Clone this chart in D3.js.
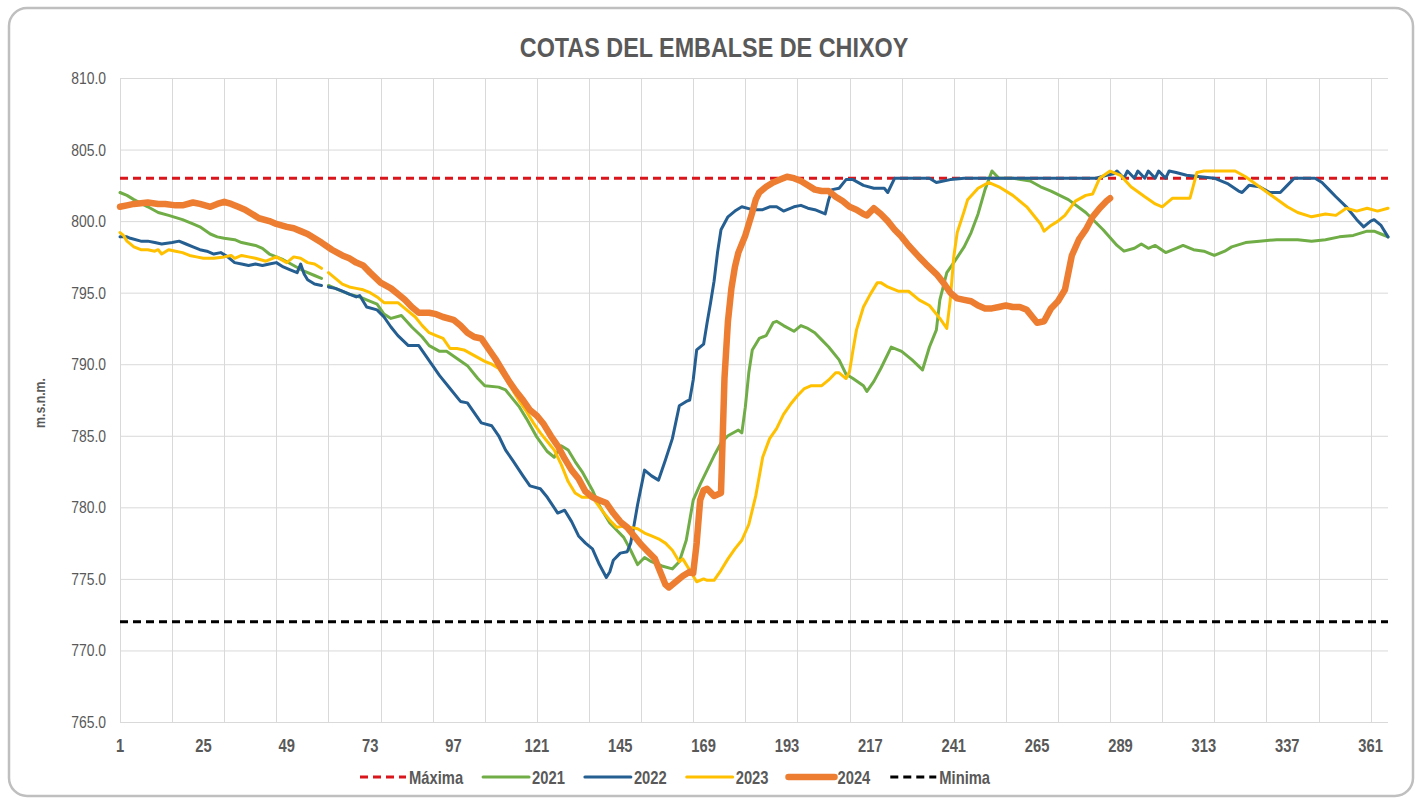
<!DOCTYPE html>
<html lang="es">
<head>
<meta charset="UTF-8">
<title>Cotas del embalse de Chixoy</title>
<script src="https://d3js.org/d3.v7.min.js"></script>
<style>
  body { margin: 0; background: #fff; }
  text { font-family: "Liberation Sans", Arial, sans-serif; fill: #595959; }
  .grid { stroke: #d9d9d9; stroke-width: 1; }
  .serie { fill: none; stroke-linejoin: round; stroke-linecap: round; }
</style>
</head>
<body>
<svg width="1422" height="802"></svg>
<script>
// ---- datos ----
const yTicks = [765, 770, 775, 780, 785, 790, 795, 800, 805, 810];
const xLabels = [1, 25, 49, 73, 97, 121, 145, 169, 193, 217, 241, 265, 289, 313, 337, 361];
const gridDays = [1, 16, 31, 46, 61, 76, 91, 106, 121, 136, 151, 166, 181, 196, 211, 226, 241, 256, 271, 286, 301, 316, 331, 346, 361];
const maxima = 803;
const minima = 772;

// [dia, cota]; el dia 60 (29 feb) no existe en 2021-2023
const s2021 = [[1,802.0],[3,801.8],[5,801.5],[9,801.0],[12,800.6],[15,800.4],[19,800.1],[22,799.8],[24,799.6],[27,799.1],[29,798.9],[31,798.8],[34,798.7],[36,798.5],[38,798.4],[40,798.3],[42,798.1],[44,797.7],[46,797.5],[48,797.3],[51,796.9],[54,796.5],[57,796.2],[59,796.0],[60,null],[61,795.5],[64,795.2],[67,794.9],[70,794.7],[72,794.5],[75,794.2],[77,793.5],[79,793.2],[82,793.4],[85,792.6],[88,791.9],[90,791.3],[93,790.9],[95,790.9],[98,790.4],[101,789.9],[104,789.0],[106,788.5],[110,788.4],[112,788.2],[114,787.6],[116,787.0],[118,786.2],[121,784.9],[124,783.9],[126,783.5],[128,784.3],[130,784.0],[132,783.2],[134,782.5],[137,781.2],[139,780.1],[142,778.9],[144,778.4],[146,777.9],[148,777.0],[150,776.0],[152,776.5],[154,776.2],[157,775.9],[160,775.7],[162,776.2],[164,777.7],[166,780.5],[168,781.6],[170,782.6],[172,783.6],[174,784.5],[176,785.0],[179,785.4],[180,785.2],[181,787.0],[182,789.4],[183,791.0],[185,791.8],[187,792.0],[189,792.9],[190,793.0],[192,792.7],[195,792.3],[197,792.7],[199,792.5],[201,792.2],[203,791.7],[205,791.2],[208,790.3],[210,789.3],[212,789.0],[215,788.5],[216,788.1],[218,788.8],[220,789.7],[223,791.2],[226,790.9],[229,790.3],[232,789.6],[234,791.2],[236,792.4],[237,794.5],[239,796.4],[241,797.1],[244,798.2],[246,799.2],[248,800.5],[250,802.2],[252,803.5],[254,803.0],[258,803.0],[263,802.8],[266,802.4],[269,802.1],[274,801.5],[279,800.6],[284,799.4],[288,798.3],[290,797.9],[293,798.1],[295,798.4],[297,798.1],[299,798.3],[302,797.8],[305,798.1],[307,798.3],[310,798.0],[313,797.9],[316,797.6],[319,797.9],[321,798.2],[325,798.5],[329,798.6],[334,798.7],[340,798.7],[344,798.6],[348,798.7],[352,798.9],[356,799.0],[360,799.3],[362,799.3],[364,799.1],[366,798.9]];

const s2022 = [[1,798.9],[3,798.9],[4,798.8],[7,798.6],[9,798.6],[11,798.5],[13,798.4],[16,798.5],[18,798.6],[20,798.4],[22,798.2],[24,798.0],[26,797.9],[28,797.7],[30,797.8],[32,797.5],[34,797.1],[36,797.0],[38,796.9],[40,797.0],[42,796.9],[44,797.0],[46,797.1],[48,796.8],[50,796.6],[52,796.4],[53,797.0],[54,796.3],[55,795.9],[57,795.6],[59,795.5],[60,null],[61,795.4],[63,795.3],[65,795.1],[67,794.9],[69,794.7],[70,794.8],[72,794.0],[75,793.8],[77,793.3],[79,792.6],[81,792.0],[84,791.3],[87,791.3],[89,790.6],[91,789.9],[93,789.2],[96,788.3],[99,787.4],[101,787.3],[103,786.6],[105,785.9],[108,785.7],[110,785.0],[112,784.0],[114,783.3],[117,782.2],[119,781.5],[122,781.3],[124,780.7],[127,779.6],[129,779.8],[131,779.0],[133,778.0],[135,777.5],[137,777.1],[139,776.0],[141,775.1],[142,775.5],[143,776.3],[145,776.8],[147,776.9],[148,777.5],[149,778.8],[150,780.2],[152,782.6],[154,782.2],[156,781.9],[158,783.3],[160,784.8],[162,787.1],[164,787.4],[165,787.5],[166,788.9],[167,791.0],[169,791.4],[170,792.9],[171,794.3],[172,795.8],[173,797.8],[174,799.4],[176,800.3],[178,800.7],[180,801.0],[183,800.8],[186,800.8],[188,801.0],[190,801.0],[192,800.7],[195,801.0],[197,801.1],[199,800.9],[201,800.8],[204,800.5],[205,801.5],[206,802.2],[208,802.3],[210,802.9],[212,802.9],[215,802.5],[218,802.3],[221,802.3],[222,802.0],[224,803.0],[234,803.0],[236,802.7],[238,802.8],[240,802.9],[244,803.0],[282,803.0],[285,803.2],[287,803.3],[288,803.5],[290,803.0],[291,803.5],[293,803.0],[294,803.5],[296,803.0],[297,803.5],[299,803.0],[300,803.5],[302,803.0],[303,803.5],[305,803.4],[308,803.2],[312,803.1],[316,803.0],[320,802.6],[323,802.1],[324,802.0],[326,802.5],[329,802.4],[332,802.0],[335,802.0],[337,802.5],[339,803.0],[345,803.0],[347,802.7],[349,802.2],[351,801.7],[354,801.0],[357,800.1],[359,799.6],[361,800.0],[362,800.1],[364,799.7],[366,798.9]];

const s2023 = [[1,799.2],[2,799.0],[3,798.6],[5,798.2],[7,798.0],[9,798.0],[11,797.9],[12,798.0],[13,797.7],[15,798.0],[17,797.9],[19,797.8],[21,797.6],[23,797.5],[25,797.4],[28,797.4],[31,797.5],[33,797.6],[34,797.4],[36,797.6],[38,797.5],[40,797.4],[43,797.2],[46,797.5],[49,797.1],[51,797.5],[53,797.4],[55,797.1],[57,797.0],[59,796.7],[60,null],[61,796.4],[63,796.0],[65,795.6],[67,795.4],[69,795.3],[71,795.2],[73,795.0],[75,794.7],[77,794.3],[79,794.3],[81,794.3],[83,793.9],[86,793.3],[88,792.7],[90,792.2],[92,792.0],[94,791.8],[96,791.1],[98,791.1],[100,791.0],[103,790.6],[106,790.2],[108,790.0],[110,789.7],[112,789.0],[114,788.2],[116,787.4],[118,786.7],[120,785.9],[122,785.2],[124,784.6],[126,784.0],[128,783.0],[130,781.8],[132,781.0],[134,780.7],[137,780.7],[140,779.7],[142,779.1],[144,778.6],[146,778.7],[148,778.6],[150,778.5],[152,778.2],[154,778.0],[156,777.8],[158,777.5],[160,777.0],[162,776.2],[163,776.4],[165,775.6],[167,774.8],[169,775.0],[170,774.9],[172,774.9],[174,775.6],[176,776.4],[178,777.1],[180,777.7],[182,778.8],[184,780.8],[186,783.5],[188,784.8],[190,785.5],[192,786.5],[194,787.2],[196,787.8],[198,788.3],[200,788.5],[203,788.5],[205,788.9],[207,789.4],[208,789.4],[210,789.0],[211,789.5],[212,791.0],[213,792.4],[215,794.0],[217,794.9],[219,795.7],[220,795.7],[222,795.4],[225,795.1],[228,795.1],[231,794.5],[234,794.1],[237,793.2],[239,792.5],[240,794.5],[241,797.5],[242,799.2],[244,800.7],[245,801.5],[248,802.3],[251,802.7],[254,802.4],[258,801.8],[262,801.0],[266,799.8],[267,799.3],[269,799.7],[271,800.0],[273,800.4],[276,801.4],[279,801.8],[281,801.9],[283,803.0],[286,803.5],[289,803.2],[292,802.4],[296,801.7],[299,801.2],[301,801.0],[304,801.6],[309,801.6],[310,802.5],[311,803.4],[313,803.5],[322,803.5],[325,803.1],[329,802.4],[333,801.7],[337,801.0],[340,800.6],[344,800.3],[348,800.5],[351,800.4],[354,800.9],[357,800.7],[360,800.9],[363,800.7],[366,800.9]];

const s2024 = [[1,801.0],[3,801.1],[5,801.2],[9,801.3],[12,801.2],[14,801.2],[17,801.1],[19,801.1],[22,801.3],[24,801.2],[27,801.0],[29,801.2],[31,801.35],[33,801.2],[35,801.0],[37,800.8],[39,800.5],[41,800.2],[44,800.0],[46,799.8],[49,799.6],[51,799.5],[53,799.3],[55,799.1],[57,798.8],[59,798.5],[62,798.0],[65,797.6],[67,797.4],[69,797.1],[71,796.9],[73,796.4],[76,795.7],[79,795.3],[81,794.9],[83,794.5],[85,794.0],[87,793.6],[90,793.6],[92,793.5],[94,793.3],[97,793.1],[99,792.7],[101,792.2],[103,791.9],[105,791.8],[107,791.1],[109,790.4],[111,789.6],[113,788.8],[115,788.1],[117,787.5],[119,786.8],[121,786.4],[123,785.8],[125,785.0],[127,784.3],[129,783.4],[131,782.6],[133,782.0],[135,781.1],[137,780.7],[139,780.5],[141,780.3],[143,779.6],[145,779.0],[147,778.6],[149,778.0],[151,777.4],[153,776.9],[155,776.4],[156,775.8],[157,775.2],[158,774.6],[159,774.4],[161,774.8],[163,775.2],[165,775.5],[166,775.4],[167,777.5],[168,780.5],[169,781.2],[170,781.3],[172,780.8],[174,781.0],[175,789.0],[176,793.0],[177,795.3],[178,796.8],[179,797.8],[181,799.0],[183,800.6],[184,801.5],[185,802.0],[187,802.4],[189,802.7],[191,802.9],[193,803.1],[195,803.0],[197,802.8],[199,802.5],[201,802.2],[203,802.1],[205,802.1],[207,801.7],[209,801.4],[211,801.0],[213,800.8],[215,800.5],[216,800.4],[218,800.9],[220,800.5],[222,800.0],[224,799.4],[226,798.9],[228,798.3],[231,797.5],[233,797.0],[236,796.3],[238,795.7],[240,795.0],[242,794.6],[244,794.5],[246,794.4],[248,794.1],[250,793.9],[252,793.9],[254,794.0],[256,794.1],[258,794.0],[260,794.0],[262,793.8],[264,793.2],[265,792.9],[267,793.0],[269,793.9],[271,794.4],[273,795.2],[275,797.6],[277,798.7],[279,799.4],[281,800.3],[283,800.9],[285,801.4],[286,801.6]];

const series = [
  { name: "Máxima", level: maxima, color: "#d9161c", width: 3, dash: "8,5" },
  { name: "2021", data: s2021, color: "#70ad47", width: 3 },
  { name: "2022", data: s2022, color: "#255e91", width: 3 },
  { name: "2023", data: s2023, color: "#ffc000", width: 3 },
  { name: "2024", data: s2024, color: "#ed7d31", width: 6.5 },
  { name: "Minima", level: minima, color: "#000000", width: 3, dash: "8,5" }
];

// ---- dibujo ----
const svg = d3.select("svg");
const plotLeft = 120, plotRight = 1388, plotTop = 78, plotBottom = 722;
const narrow = 0.82; // imita Arial Narrow

// texto "estrecho": se escala en x alrededor del punto de anclaje
function label(parent, px, py, str, size, weight, anchor) {
  return parent.append("text")
    .attr("transform", `translate(${px},${py}) scale(${narrow},1)`)
    .attr("text-anchor", anchor || "start")
    .style("font-size", size + "px")
    .style("font-weight", weight || "normal")
    .text(str);
}

svg.append("rect")
  .attr("x", 9).attr("y", 8).attr("width", 1404).attr("height", 788)
  .attr("rx", 18)
  .attr("fill", "#fff").attr("stroke", "#bfbfbf").attr("stroke-width", 2.5);

const x = d3.scaleLinear().domain([1, 366]).range([plotLeft, plotRight]);
const y = d3.scaleLinear().domain([765, 810]).range([plotBottom, plotTop]);

// grid
svg.append("g").selectAll("line")
  .data(yTicks).enter().append("line")
  .attr("class", "grid")
  .attr("x1", plotLeft).attr("x2", plotRight)
  .attr("y1", d => y(d) + 0.5).attr("y2", d => y(d) + 0.5);

svg.append("g").selectAll("line")
  .data(gridDays).enter().append("line")
  .attr("class", "grid")
  .attr("x1", d => Math.round(x(d)) + 0.5).attr("x2", d => Math.round(x(d)) + 0.5)
  .attr("y1", plotTop).attr("y2", plotBottom);

// axis labels
const yAxisG = svg.append("g");
yTicks.forEach(v => label(yAxisG, 106, y(v) + 6, d3.format(".1f")(v), 17, "normal", "end"));

const xAxisG = svg.append("g");
xLabels.forEach(d => label(xAxisG, x(d), 752, d, 18, "bold", "middle"));

svg.append("text")
  .attr("transform", "translate(45,403) rotate(-90) scale(0.85,1)")
  .attr("text-anchor", "middle")
  .style("font-size", "14.5px").style("font-weight", "bold")
  .text("m.s.n.m.");

label(svg, 714, 57, "COTAS DEL EMBALSE DE CHIXOY", 28.5, "bold", "middle");

// lines
const line = d3.line()
  .defined(d => d[1] !== null)
  .x(d => x(d[0]))
  .y(d => y(d[1]));

series.forEach(s => {
  if (s.level !== undefined) {
    svg.append("line")
      .attr("x1", plotLeft).attr("x2", plotRight)
      .attr("y1", y(s.level)).attr("y2", y(s.level))
      .attr("stroke", s.color).attr("stroke-width", s.width)
      .attr("stroke-dasharray", s.dash);
  }
});
series.forEach(s => {
  if (s.data) {
    svg.append("path")
      .datum(s.data)
      .attr("class", "serie")
      .attr("d", line)
      .attr("stroke", s.color)
      .attr("stroke-width", s.width);
  }
});

// legend
const legend = svg.append("g");
let lx = 360;
const ly = 777;
series.forEach(s => {
  const g = legend.append("g");
  g.append("line")
    .attr("x1", lx).attr("x2", lx + 46)
    .attr("y1", ly).attr("y2", ly)
    .attr("stroke", s.color)
    .attr("stroke-width", s.width)
    .attr("stroke-dasharray", s.dash || null)
    .attr("stroke-linecap", s.dash ? "butt" : "round");
  const t = label(g, lx + 49, ly + 6.5, s.name, 18, "bold", "start");
  lx += 49 + t.node().getComputedTextLength() * narrow + 20;
});
</script>
</body>
</html>
